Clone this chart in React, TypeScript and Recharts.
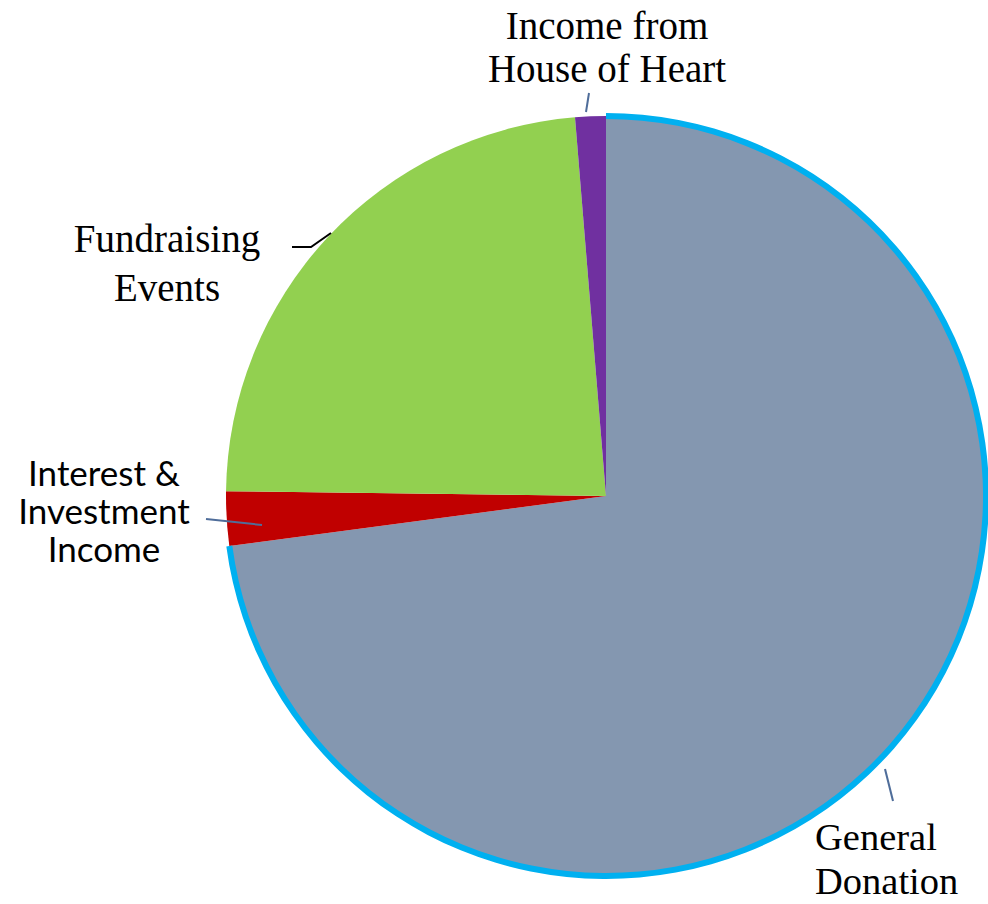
import React from "react";
import { PieChart, Pie, Cell } from "recharts";

const categories = [
  "General Donation",
  "Interest & Investment Income",
  "Fundraising Events",
  "Income from House of Heart",
];
const shares = [72.9, 2.3, 23.5, 1.3];
const sliceColors = ["#8497B0", "#C00000", "#92D050", "#7030A0"];
const ringColors = ["#00B0F0", "none", "none", "none"];

const labelLines: string[][] = [
  ["General", "Donation"],
  ["Interest &", "Investment", "Income"],
  ["Fundraising", "Events"],
  ["Income from", "House of Heart"],
];

// layout of labels relative to pie centre (styling only)
const labelLayout = [
  { tx: 209, ty: 354, lh: 44, anchor: "start", font: "'Liberation Serif', 'Times New Roman', serif", size: 38.5, line: [[279, 273], [287, 305]], lineColor: "#4F6D9A" },
  { tx: -502, ty: -10, lh: 38, anchor: "middle", font: "Lato, 'Noto Sans', sans-serif", size: 35, line: [[-400, 23], [-344, 29]], lineColor: "#4F6D9A" },
  { tx: -439, ty: -244, lh: 49, anchor: "middle", font: "'Liberation Serif', 'Times New Roman', serif", size: 39, line: [[-314, -249], [-295, -249], [-275, -263]], lineColor: "#000000" },
  { tx: 1, ty: -457, lh: 43, anchor: "middle", font: "'Liberation Serif', 'Times New Roman', serif", size: 39, line: [[-17, -403], [-20, -384]], lineColor: "#4F6D9A" },
];

const data = categories.map((name, i) => ({ name, value: shares[i] }));

const renderLabel = (props: any) => {
  const { cx, cy, index } = props;
  const L = labelLayout[index];
  const pts = L.line.map(([x, y]) => `${cx + x},${cy + y}`).join(" ");
  return (
    <g key={`lbl-${index}`}>
      <polyline points={pts} fill="none" stroke={L.lineColor} strokeWidth={2} />
      <text
        x={cx + L.tx}
        y={cy + L.ty}
        textAnchor={L.anchor as any}
        fontFamily={L.font}
        fontSize={L.size}
        fill="#000"
      >
        {labelLines[index].map((t, k) => (
          <tspan key={k} x={cx + L.tx} y={cy + L.ty + k * L.lh}>
            {t}
          </tspan>
        ))}
      </text>
    </g>
  );
};

export default function App() {
  return (
    <div style={{ position: "absolute", left: 0, top: 0, background: "#fff" }}>
      <PieChart width={988} height={904} margin={{ top: 0, right: 0, bottom: 0, left: 0 }}>
        <Pie
          data={data}
          dataKey="value"
          nameKey="name"
          cx={606}
          cy={496}
          outerRadius={380}
          startAngle={90}
          endAngle={-270}
          stroke="none"
          isAnimationActive={false}
          label={renderLabel}
          labelLine={false}
        >
          {data.map((d, i) => (
            <Cell key={d.name} fill={sliceColors[i]} />
          ))}
        </Pie>
        <Pie
          data={data}
          dataKey="value"
          nameKey="name"
          cx={606}
          cy={496}
          innerRadius={377}
          outerRadius={383}
          startAngle={90}
          endAngle={-270}
          stroke="none"
          isAnimationActive={false}
          label={false}
          labelLine={false}
        >
          {data.map((d, i) => (
            <Cell key={d.name} fill={ringColors[i]} />
          ))}
        </Pie>
      </PieChart>
    </div>
  );
}
